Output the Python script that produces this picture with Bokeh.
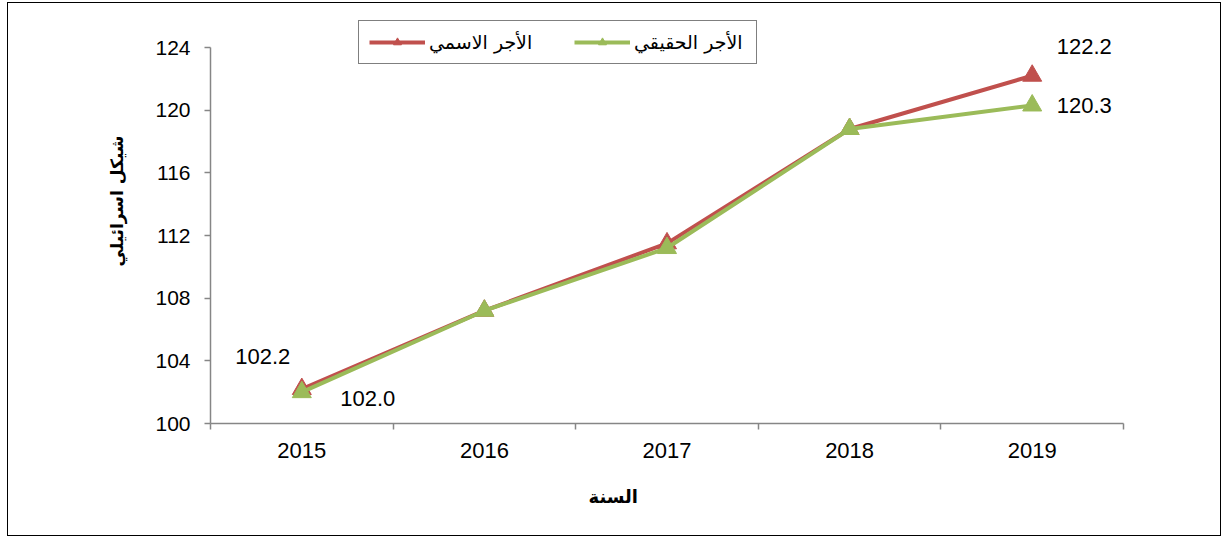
from bokeh.plotting import figure
from bokeh.models import FixedTicker, Legend, LegendItem, ColumnDataSource, Title
from bokeh.core.properties import value
from bokeh.embed import file_html
from bokeh.resources import INLINE

years = ["2015", "2016", "2017", "2018", "2019"]
nominal = [102.2, 107.2, 111.5, 118.8, 122.2]
real = [102.0, 107.2, 111.2, 118.8, 120.3]
nominal_name = "الأجر الاسمي"
real_name = "الأجر الحقيقي"
y_title = "شيكل اسرائيلي"
x_title = "السنة"
y_ticks = [100, 104, 108, 112, 116, 120, 124]

RED = "#C0504D"
GREEN = "#9BBB59"
AXIS = "#868686"
FONT = "Liberation Sans"
AFONT = "DejaVu Sans"

xs = [i + 0.5 for i in range(len(years))]

p = figure(width=1214, height=534, output_backend="svg", toolbar_location=None,
           x_range=(0, len(years)), y_range=(100, 126.3),
           min_border_left=202, min_border_right=99, min_border_top=8, min_border_bottom=114)
p.styles = {"border": "1.5px solid black", "margin-left": "7px", "margin-top": "2px"}
p.outline_line_color = None
p.xgrid.visible = False
p.ygrid.visible = False
p.background_fill_color = "white"
p.border_fill_color = "white"

# axes
xa = p.xaxis[0]
xa.ticker = FixedTicker(ticks=xs, minor_ticks=list(range(len(years) + 1)))
xa.major_label_overrides = {x: y for x, y in zip(xs, years)}
xa.major_tick_out = 0
xa.major_tick_in = 0
xa.minor_tick_out = 6
xa.minor_tick_in = 0
xa.minor_tick_line_color = AXIS
xa.minor_tick_line_width = 1.5
xa.axis_line_color = AXIS
xa.axis_line_width = 1.5
xa.major_label_text_font = FONT
xa.major_label_text_font_size = "22px"
xa.major_label_text_color = "black"
xa.major_label_standoff = 13

ya = p.yaxis[0]
ya.ticker = FixedTicker(ticks=y_ticks, minor_ticks=[])
ya.bounds = (100, 124)
ya.major_tick_out = 6
ya.major_tick_in = 0
ya.major_tick_line_color = AXIS
ya.major_tick_line_width = 1.5
ya.axis_line_color = AXIS
ya.axis_line_width = 1.5
ya.major_label_text_font = FONT
ya.major_label_text_font_size = "21px"
ya.major_label_text_color = "black"
ya.major_label_standoff = 14

src_n = ColumnDataSource(dict(x=xs, y=nominal))
src_r = ColumnDataSource(dict(x=xs, y=real))

ln = p.line("x", "y", source=src_n, line_color=RED, line_width=4)
mn = p.scatter("x", "y", source=src_n, marker="triangle", size=19, fill_color=RED, line_color=RED)
lr = p.line("x", "y", source=src_r, line_color=GREEN, line_width=4)
mr = p.scatter("x", "y", source=src_r, marker="triangle", size=19, fill_color=GREEN, line_color=GREEN)

# data labels
lab_x = [xs[0], xs[0], xs[-1], xs[-1]]
lab_y = [nominal[0], real[0], nominal[-1], real[-1]]
lab_t = ["%.1f" % v for v in lab_y]
lab_dx = [-39, 66, 52, 52]
lab_dy = [-33, 6, -29, 0]
p.text(x=lab_x, y=lab_y, text=lab_t, x_offset=lab_dx, y_offset=lab_dy,
       text_align="center", text_baseline="middle", text_font=value(FONT),
       text_font_size="22px", text_color="black")

legend = Legend(items=[LegendItem(label=nominal_name, renderers=[ln, mn]),
                       LegendItem(label=real_name, renderers=[lr, mr])],
                orientation="horizontal", location=(148, 359),
                border_line_color="black", border_line_width=1.5,
                label_text_font=AFONT, label_text_font_size="19px", label_text_color="black",
                glyph_width=56, glyph_height=20, label_standoff=4, spacing=33,
                label_width=112, padding=10, margin=0, background_fill_alpha=1)
p.add_layout(legend, "center")

p.add_layout(Title(text=y_title, align="left", offset=157, text_font=AFONT, text_color="black",
                   text_font_size="17px", text_font_style="bold", standoff=51), "left")
p.add_layout(Title(text=x_title, align="left", offset=378, text_font=AFONT, text_color="black",
                   text_font_size="18px", text_font_style="bold", standoff=46), "below")

open("out.html", "w").write(file_html(p, INLINE))
